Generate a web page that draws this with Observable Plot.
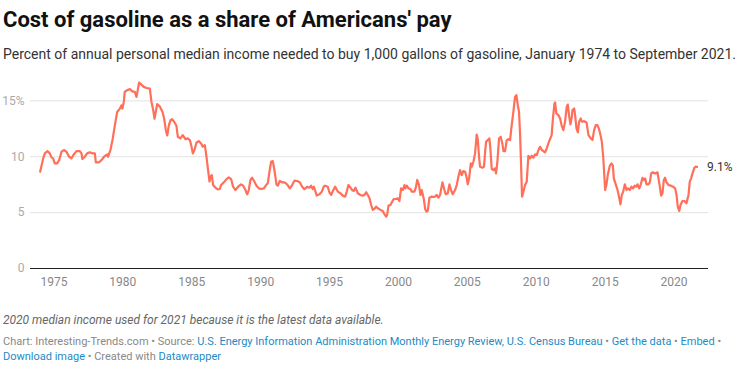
<!DOCTYPE html>
<html>
<head>
<meta charset="utf-8">
<script src="https://cdn.jsdelivr.net/npm/d3@7"></script>
<script src="https://cdn.jsdelivr.net/npm/@observablehq/plot@0.6"></script>
<style>
  html, body { margin: 0; padding: 0; background: #fff; }
  #wrap { position: relative; width: 737px; height: 367px; font-family: Roboto, "Noto Sans", sans-serif; overflow: hidden; }
  .title { position: absolute; left: 3px; top: 9px; font-size: 22px; line-height: 22px; font-weight: 700; color: #111; white-space: nowrap; }
  .subtitle { position: absolute; left: 3px; top: 47px; font-size: 14px; line-height: 14px; color: #333; white-space: nowrap; }
  .note { position: absolute; left: 3px; top: 314px; font-size: 12px; line-height: 12px; font-style: italic; color: #666; white-space: nowrap; }
  .caption { position: absolute; left: 3px; top: 334px; width: 732px; font-size: 11px; line-height: 15px; color: #888; }
  .caption a { color: #1d8ac6; text-decoration: none; }
  #chart { position: absolute; left: 0; top: 72px; }
</style>
</head>
<body>
<div id="wrap">
  <div class="title">Cost of gasoline as a share of Americans' pay</div>
  <div class="subtitle">Percent of annual personal median income needed to buy 1,000 gallons of gasoline, January 1974 to September 2021.</div>
  <div id="chart"></div>
  <div class="note">2020 median income used for 2021 because it is the latest data available.</div>
  <div class="caption">Chart: Interesting-Trends.com • Source: <a>U.S. Energy Information Administration Monthly Energy Review, U.S. Census Bureau</a> • <a>Get the data</a> • <a>Embed</a> • <a>Download image</a> • Created with <a>Datawrapper</a></div>
</div>
<script>
// Decimal year (time) of each reading
const years = [
  1974.00,1974.22,1974.34,1974.53,1974.70,1974.82,1974.94,1975.06,1975.23,1975.38,
  1975.55,1975.72,1975.91,1976.10,1976.27,1976.44,1976.64,1976.88,1977.00,1977.07,
  1977.24,1977.41,1977.60,1977.80,1977.97,1978.04,1978.28,1978.45,1978.64,1978.86,
  1978.93,1979.01,1979.10,1979.25,1979.42,1979.59,1979.78,1979.90,1979.97,1980.07,
  1980.14,1980.31,1980.51,1980.70,1980.87,1980.99,1981.06,1981.18,1981.35,1981.52,
  1981.72,1981.96,1982.08,1982.20,1982.30,1982.39,1982.49,1982.68,1982.88,1983.00,
  1983.12,1983.22,1983.34,
  1983.46,1983.58,1983.75,1983.89,1983.99,1984.18,1984.35,1984.54,1984.71,1984.86,
  1984.96,1985.08,1985.20,1985.34,1985.51,1985.68,1985.80,1985.95,1986.07,1986.17,
  1986.29,1986.36,1986.46,1986.55,1986.72,1986.89,1987.04,1987.13,1987.33,1987.52,
  1987.69,1987.86,1988.00,1988.17,1988.37,1988.58,1988.73,1988.90,1989.02,1989.14,
  1989.26,1989.38,1989.55,1989.70,1989.87,1990.04,1990.23,1990.40,1990.52,1990.64,
  1990.76,1990.88,1991.00,1991.15,1991.25,1991.39,1991.56,1991.73,1991.92,1992.12,
  1992.29,1992.45,1992.65,1992.84,1993.01,
  1993.18,1993.37,1993.54,1993.66,1993.78,1993.86,1993.98,1994.07,1994.27,1994.44,
  1994.58,1994.68,1994.87,1994.99,1995.12,1995.24,1995.41,1995.60,1995.79,1995.96,
  1996.13,1996.25,1996.37,1996.52,1996.64,1996.76,1996.88,1997.05,1997.24,1997.41,
  1997.53,1997.66,1997.78,1997.90,1998.02,1998.14,1998.26,1998.38,1998.50,1998.70,
  1998.86,1998.99,1999.11,1999.18,1999.28,1999.42,1999.52,1999.66,1999.83,1999.95,
  2000.07,2000.19,2000.32,2000.44,2000.51,2000.61,2000.73,2000.87,2000.97,2001.16,
  2001.28,2001.36,2001.48,2001.60,2001.69,2001.84,2001.94,2002.03,2002.13,2002.25,
  2002.42,2002.61,2002.78,2002.86,
  2002.90,2003.02,2003.19,2003.34,2003.43,2003.58,2003.70,2003.82,2003.94,2004.11,
  2004.23,2004.35,2004.47,2004.59,2004.71,2004.84,2004.96,2005.03,2005.13,2005.25,
  2005.32,2005.44,2005.56,2005.68,2005.75,2005.85,2005.92,2006.09,2006.21,2006.29,
  2006.36,2006.48,2006.60,2006.67,2006.77,2006.89,2007.01,2007.08,2007.18,2007.30,
  2007.42,2007.54,2007.62,2007.74,2007.86,2007.98,2008.10,2008.22,2008.34,2008.46,
  2008.56,2008.66,2008.75,2008.83,2008.90,2008.97,2009.07,2009.19,2009.31,2009.43,
  2009.55,2009.67,2009.79,2009.91,2010.04,2010.16,2010.28,2010.40,2010.52,2010.64,
  2010.76,2010.88,2011.00,2011.12,2011.20,2011.32,2011.37,2011.46,2011.61,2011.73,
  2011.85,2011.97,2012.09,2012.21,2012.29,2012.38,2012.48,2012.58,
  2012.63,2012.75,2012.82,2012.92,2013.02,2013.11,2013.23,2013.31,2013.48,2013.65,
  2013.79,2013.96,2014.08,2014.20,2014.32,2014.44,2014.56,2014.69,2014.76,2014.86,
  2014.93,2015.00,2015.10,2015.19,2015.34,2015.46,2015.56,2015.63,2015.77,2015.90,
  2016.02,2016.11,2016.21,2016.31,2016.43,2016.55,2016.67,2016.79,2016.91,2017.03,
  2017.15,2017.27,2017.35,2017.47,2017.59,2017.71,2017.81,2017.90,2018.00,2018.14,
  2018.24,2018.34,2018.44,2018.63,2018.80,2018.87,2018.97,2019.06,2019.16,2019.26,
  2019.35,2019.45,2019.60,2019.77,2019.93,2020.08,2020.18,2020.27,2020.37,2020.47,
  2020.61,2020.76,2020.90,2021.05,2021.14,2021.24,2021.34,2021.48,2021.58,2021.67
];
// Percent of annual median income
const share = [
  8.66,9.85,10.3,10.5,10.3,9.94,9.85,9.4,9.4,9.7,
  10.45,10.6,10.45,10.0,9.85,10.2,10.5,10.5,10.3,9.8,
  10.0,10.3,10.4,10.3,10.3,9.5,9.5,9.7,10.0,10.2,
  10.0,10.3,10.6,11.5,12.8,14.0,14.3,14.6,14.3,14.9,
  15.8,15.95,16.05,15.85,15.8,15.35,15.8,16.64,16.45,16.25,
  16.15,16.1,14.9,14.2,13.4,14.0,14.7,14.5,14.0,13.4,
  12.4,11.9,12.8,
  13.27,13.36,13.07,12.77,11.79,11.64,11.93,11.58,11.64,11.49,
  11.04,10.3,10.6,11.25,11.4,11.19,10.9,11.04,10.0,8.96,
  7.77,8.21,8.36,7.47,7.23,7.08,7.11,7.47,7.71,8.0,
  8.15,8.0,7.32,7.02,7.32,7.53,7.41,7.02,6.64,7.02,
  7.92,8.12,7.77,7.41,7.17,7.11,7.17,7.47,7.62,8.66,
  9.55,9.61,8.81,7.53,7.41,7.83,7.71,7.71,7.53,7.17,
  7.47,7.86,7.83,7.71,7.32,
  7.1,7.32,7.23,7.41,7.11,7.32,6.88,6.52,6.64,6.88,
  7.32,7.41,7.32,6.82,6.58,6.93,7.32,6.88,6.73,6.52,
  6.43,6.88,7.47,7.23,7.02,6.93,7.23,6.73,6.58,6.52,
  6.58,6.82,6.58,6.28,5.68,5.24,5.33,5.54,5.39,5.24,
  5.15,4.85,4.64,4.79,5.63,5.68,5.92,6.22,6.22,6.28,
  6.04,7.17,7.02,7.47,7.17,7.41,7.17,7.11,6.88,6.88,
  7.32,7.92,7.53,6.58,7.02,6.22,5.33,5.09,5.15,6.34,
  6.43,6.40,6.58,6.40,
  6.34,6.58,7.71,7.02,6.64,6.73,7.53,7.02,6.64,7.02,
  7.47,8.21,8.81,8.36,8.72,8.66,8.07,7.53,8.07,9.40,
  9.11,9.55,10.30,11.99,11.64,10.00,9.11,9.02,9.11,10.45,
  11.34,11.49,11.64,10.74,8.90,8.81,8.96,8.51,9.55,11.64,
  11.79,11.19,10.51,10.51,11.49,11.58,11.49,12.83,14.02,15.36,
  15.51,14.61,14.02,11.93,9.26,6.43,6.88,7.47,7.77,10.09,
  9.85,10.09,9.91,10.21,10.15,10.60,10.89,10.60,10.51,10.39,
  10.74,11.19,11.58,11.93,13.27,14.76,14.85,13.87,13.72,13.42,
  12.77,12.38,13.13,14.46,14.67,13.72,12.89,13.57,
  14.17,14.32,13.72,12.53,12.17,13.13,13.42,13.13,13.18,13.07,
  11.93,11.64,11.49,12.38,12.83,12.83,12.47,11.79,11.34,10.00,
  8.51,7.02,7.53,8.36,9.20,9.40,9.20,8.07,7.53,7.02,
  6.34,5.74,6.58,6.88,7.53,7.02,7.17,7.02,7.32,7.17,
  7.41,7.32,7.53,7.17,7.53,8.12,7.92,8.07,7.53,7.53,
  7.71,8.51,8.60,8.51,8.60,8.07,7.32,6.52,6.73,7.92,
  8.12,7.71,7.47,7.41,7.32,7.17,6.58,5.54,5.15,5.68,
  6.04,6.04,5.83,6.58,7.77,8.07,8.51,9.02,9.11,9.1
];
const xTicks = [1975, 1980, 1985, 1990, 1995, 2000, 2005, 2010, 2015, 2020];
const yTicks = [0, 5, 10, 15];
const gridValues = [5, 10, 15];
const endLabel = "9.1%";

const data = years.map((year, i) => ({year, share: share[i]}));
const last = data[data.length - 1];

const chart = Plot.plot({
  width: 737,
  height: 223,
  marginLeft: 30,
  marginRight: 29,
  marginTop: 6,
  marginBottom: 27,
  x: {domain: [1973.3, 2022.5]},
  y: {domain: [0, 17]},
  style: {fontFamily: "Roboto, 'Noto Sans', sans-serif", fontSize: "12px", background: "transparent", overflow: "visible"},
  marks: [
    Plot.ruleY(gridValues, {stroke: "#e3e3e3", strokeWidth: 1}),
    Plot.axisY({ticks: yTicks, tickSize: 0, tickPadding: 6, label: null, fill: "#aaa",
      tickFormat: d => d === 15 ? "15%" : String(d)}),
    Plot.axisX({ticks: xTicks, tickSize: 0, tickPadding: 9, label: null, fill: "#888",
      tickFormat: d => String(d)}),
    Plot.ruleY([0], {stroke: "#222", strokeWidth: 1}),
    Plot.line(data, {x: "year", y: "share", stroke: "#ff6f59", strokeWidth: 2.2, strokeLinejoin: "round"}),
    Plot.text([last], {x: "year", y: "share", text: () => endLabel, dx: 10, textAnchor: "start", fill: "#333", fontSize: 12})
  ]
});
document.getElementById("chart").appendChild(chart);
</script>
</body>
</html>
